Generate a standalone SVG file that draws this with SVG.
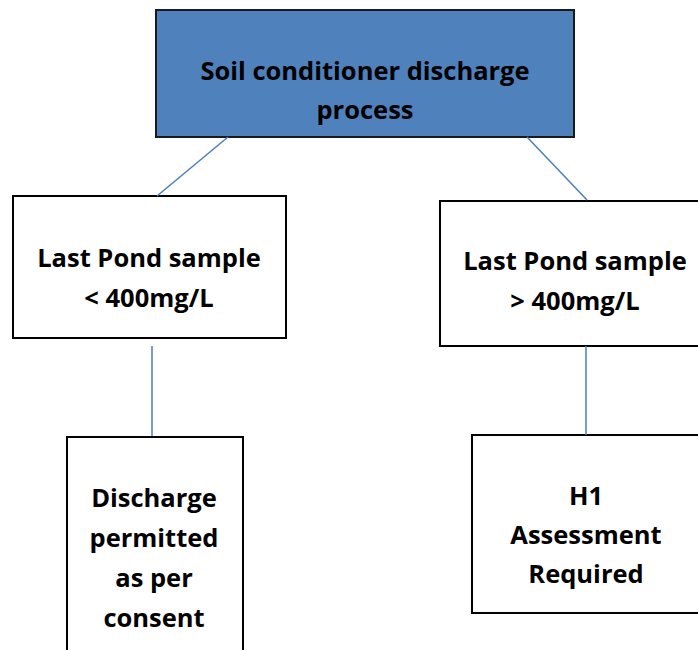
<svg xmlns="http://www.w3.org/2000/svg" width="698" height="650" viewBox="0 0 698 650">
<style>
.box{fill:#fff;stroke:#000;stroke-width:2}
.top{fill:#4F81BD;stroke:#1a1a1a;stroke-width:2}
.t{font-family:"Open Sans",Lato,"Liberation Sans",sans-serif;font-weight:bold;font-size:25.5px;fill:#000;text-anchor:middle}
.c{stroke:#4A7EBB;stroke-width:1.5;fill:none}
</style>
<rect width="698" height="650" fill="#fff"/>
<g id="root">
<rect class="top" x="156" y="10" width="418" height="127"/>
<text class="t" x="365" y="80">Soil conditioner discharge</text>
<text class="t" x="365" y="119">process</text>
</g>
<g id="low">
<rect class="box" x="13" y="196" width="273" height="142"/>
<text class="t" x="149" y="267">Last Pond sample</text>
<text class="t" x="149" y="307">&lt; 400mg/L</text>
</g>
<g id="high">
<rect class="box" x="440" y="201" width="270" height="145"/>
<text class="t" x="575" y="270">Last Pond sample</text>
<text class="t" x="575" y="310">&gt; 400mg/L</text>
</g>
<g id="permitted">
<rect class="box" x="67" y="437" width="176" height="230"/>
<text class="t" x="154" y="507">Discharge</text>
<text class="t" x="154" y="547">permitted</text>
<text class="t" x="154" y="587">as per</text>
<text class="t" x="154" y="627">consent</text>
</g>
<g id="h1">
<rect class="box" x="472" y="435" width="240" height="178"/>
<text class="t" x="586" y="505">H1</text>
<text class="t" x="586" y="544">Assessment</text>
<text class="t" x="586" y="583">Required</text>
</g>
<g id="connectors">
<line class="c" x1="228" y1="137" x2="157" y2="196"/>
<line class="c" x1="527" y1="137" x2="587" y2="200"/>
<line class="c" x1="152" y1="346" x2="152" y2="436"/>
<line class="c" x1="586" y1="346" x2="586" y2="435"/>
</g>
</svg>
